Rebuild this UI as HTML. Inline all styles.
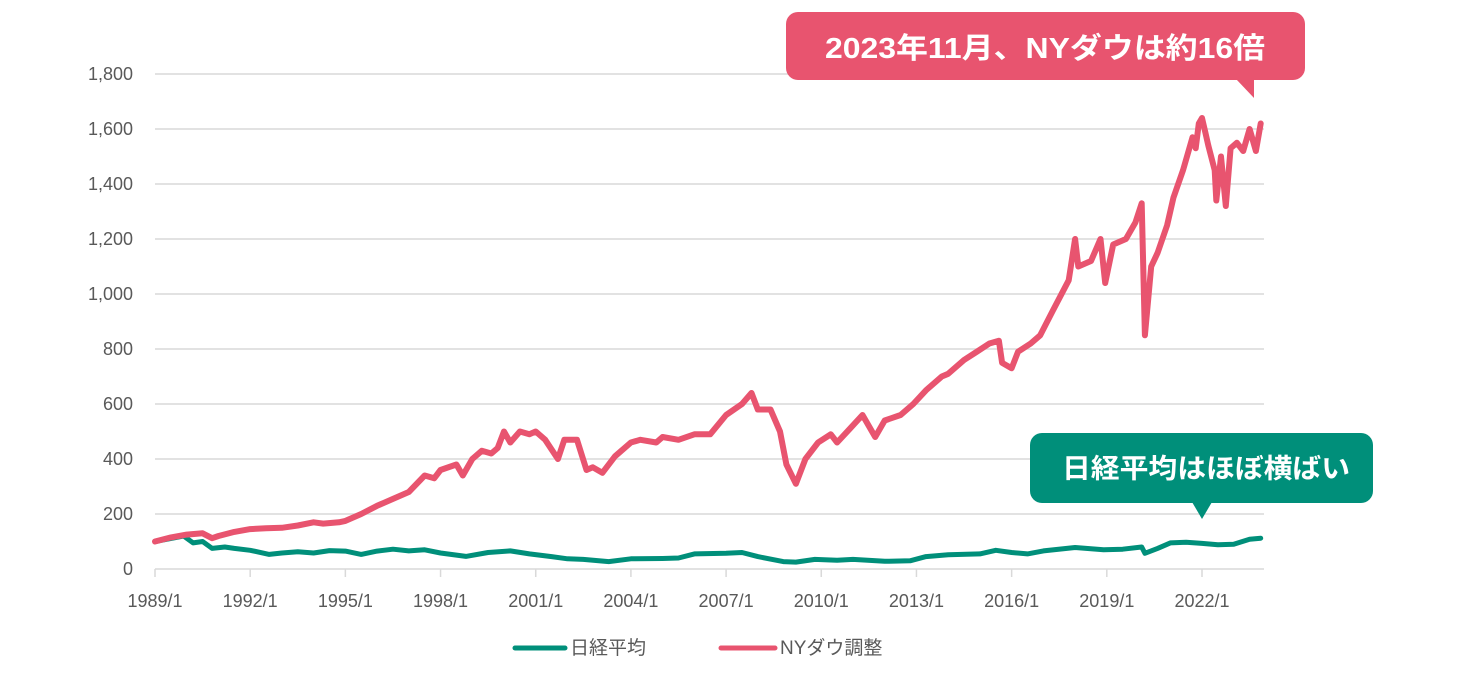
<!DOCTYPE html>
<html><head><meta charset="utf-8"><style>
html,body{margin:0;padding:0;background:#fff;}
svg{display:block;font-family:"Liberation Sans","Noto Sans CJK JP",sans-serif;}
</style></head><body>
<svg id="chart" width="1466" height="680" viewBox="0 0 1466 680" xmlns="http://www.w3.org/2000/svg">
<g id="grid"></g>
<g id="yaxis"></g>
<g id="xaxis"></g>
<g id="series"></g>
<g>
<rect x="786" y="12" width="519" height="68" rx="12" fill="#E8546F"/>
<polygon points="1236,79 1254,79 1254,98" fill="#E8546F"/>
<text x="1045" y="58" text-anchor="middle" font-size="29" font-weight="bold" fill="#fff" textLength="440" lengthAdjust="spacingAndGlyphs">2023年11月、NYダウは約16倍</text>
</g>
<g>
<rect x="1030" y="433" width="343" height="70" rx="12" fill="#008F7A"/>
<polygon points="1192,502 1212,502 1202,519" fill="#008F7A"/>
<text x="1206" y="478" text-anchor="middle" font-size="27" font-weight="bold" fill="#fff" textLength="288" lengthAdjust="spacingAndGlyphs">日経平均はほぼ横ばい</text>
</g>
<g>
<g>
<line x1="515" y1="648" x2="565" y2="648" stroke="#008F7A" stroke-width="5" stroke-linecap="round"/>
<text x="570" y="654" font-size="19" fill="#595959">日経平均</text>
</g>
<g>
<line x1="721" y1="648" x2="775" y2="648" stroke="#E8546F" stroke-width="5" stroke-linecap="round"/>
<text x="780" y="654" font-size="19" fill="#595959">NYダウ調整</text>
</g>
</g>
</svg>
<script>
const yTicks = [0,200,400,600,800,1000,1200,1400,1600,1800];
const xTickYears = [1989,1992,1995,1998,2001,2004,2007,2010,2013,2016,2019,2022];
const nyYears = [1989.0,1989.5,1990.0,1990.5,1990.8,1991.0,1991.5,1992.0,1992.5,1993.0,1993.5,1994.0,1994.3,1994.8,1995.0,1995.5,1996.0,1996.5,1997.0,1997.5,1997.8,1998.0,1998.5,1998.7,1999.0,1999.3,1999.6,1999.8,2000.0,2000.2,2000.5,2000.8,2001.0,2001.3,2001.7,2001.9,2002.3,2002.6,2002.8,2003.1,2003.5,2004.0,2004.3,2004.8,2005.0,2005.5,2006.0,2006.5,2007.0,2007.5,2007.8,2008.0,2008.4,2008.7,2008.9,2009.2,2009.5,2009.9,2010.3,2010.5,2010.9,2011.3,2011.7,2012.0,2012.5,2012.9,2013.3,2013.8,2014.0,2014.5,2014.9,2015.3,2015.6,2015.7,2016.0,2016.2,2016.6,2016.9,2017.3,2017.8,2018.0,2018.1,2018.5,2018.8,2018.95,2019.2,2019.6,2019.9,2020.1,2020.2,2020.4,2020.6,2020.9,2021.1,2021.4,2021.7,2021.8,2021.9,2022.0,2022.1,2022.2,2022.4,2022.45,2022.6,2022.75,2022.9,2023.1,2023.3,2023.5,2023.7,2023.85];
const nyValues = [100,115,125,130,112,120,135,145,148,150,158,170,165,170,175,200,230,255,280,340,330,360,380,340,400,430,420,440,500,460,500,490,500,470,400,470,470,360,370,350,410,460,470,460,480,470,490,490,560,600,640,580,580,500,380,310,400,460,490,460,510,560,480,540,560,600,650,700,710,760,790,820,830,750,730,790,820,850,940,1050,1200,1100,1120,1200,1040,1180,1200,1260,1330,850,1100,1150,1250,1350,1450,1570,1530,1620,1640,1590,1540,1450,1340,1500,1320,1530,1550,1520,1600,1520,1620];
const nkYears = [1989.0,1989.9,1990.2,1990.5,1990.8,1991.2,1991.5,1992.0,1992.6,1993.0,1993.5,1994.0,1994.5,1995.0,1995.5,1996.0,1996.5,1997.0,1997.5,1998.0,1998.8,1999.5,2000.2,2000.8,2001.5,2002.0,2002.5,2003.3,2004.0,2005.0,2005.5,2006.0,2007.0,2007.5,2008.0,2008.8,2009.2,2009.8,2010.5,2011.0,2012.0,2012.8,2013.3,2014.0,2015.0,2015.5,2016.0,2016.5,2017.0,2018.0,2018.9,2019.5,2020.1,2020.2,2020.6,2021.0,2021.5,2022.0,2022.5,2023.0,2023.5,2023.85];
const nkValues = [100,120,95,100,75,80,75,68,53,58,63,58,67,65,53,65,72,66,70,58,46,60,66,55,45,37,35,27,37,38,40,55,57,60,45,27,25,35,32,35,28,30,45,52,55,68,60,55,66,78,70,72,80,57,75,95,97,93,88,90,108,112];

const NS='http://www.w3.org/2000/svg';
const X0=155, X1=1264, Y0=569, Y1=74;
const xs = y => X0 + (y-1989)*(1202-155)/33;
const ys = v => Y0 - v*(Y0-Y1)/1800;
function mk(tag, attrs, parent){const e=document.createElementNS(NS,tag);for(const k in attrs)e.setAttribute(k,attrs[k]);parent.appendChild(e);return e;}
const grid=document.getElementById('grid'), ya=document.getElementById('yaxis'), xa=document.getElementById('xaxis'), ser=document.getElementById('series');
yTicks.forEach(v=>{
  if(v>0){const g=mk('line',{x1:X0,x2:X1,y1:ys(v),y2:ys(v),stroke:'#d9d9d9','stroke-width':1.5},grid);
  
  }
  const t=mk('text',{x:133,y:ys(v)+6,'text-anchor':'end','font-size':18,fill:'#595959'},ya);
  
  
  t.textContent=v.toLocaleString('en-US');
});
const ax=mk('line',{x1:X0,x2:X1,y1:Y0,y2:Y0,stroke:'#d9d9d9','stroke-width':1.5},xa);


xTickYears.forEach(yr=>{
  const tk=mk('line',{x1:xs(yr),x2:xs(yr),y1:Y0,y2:Y0+8,stroke:'#d9d9d9','stroke-width':1.5},xa);
  
  
  const t=mk('text',{x:xs(yr),y:607,'text-anchor':'middle','font-size':18,fill:'#595959'},xa);
  
  
  t.textContent=yr+'/1';
});
function line(xv,yv,color,name,w){
  const d=xv.map((x,i)=>(i?'L':'M')+xs(x).toFixed(1)+','+ys(yv[i]).toFixed(1)).join(' ');
  const p=mk('path',{d:d,fill:'none',stroke:color,'stroke-width':w,'stroke-linejoin':'round','stroke-linecap':'round'},ser);
  
  
}
line(nkYears,nkValues,'#008F7A','nikkei-line',5);
line(nyYears,nyValues,'#E8546F','ny-dow-line',6);
</script>
</body></html>
